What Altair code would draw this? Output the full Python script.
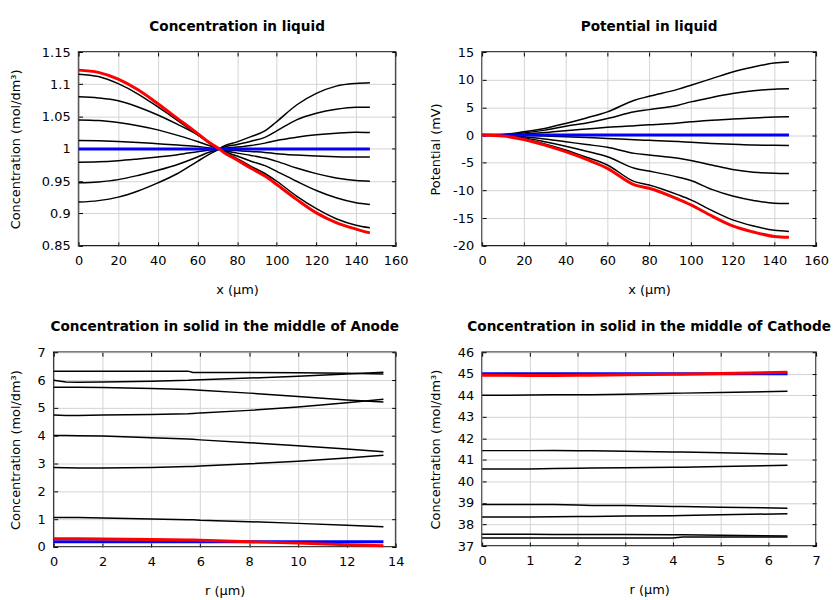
import altair as alt
import pandas as pd

FONT = "DejaVu Sans"

# ---------------- Concentration in liquid ----------------
liq_x = [0, 10, 20, 30, 40, 50, 60, 65, 71, 73, 80, 87, 94, 100, 110, 120, 130, 140, 147]
cl_black = [
    [1.1157, 1.112, 1.101, 1.085, 1.065, 1.044, 1.022, 1.011, 1.0, 0.996, 0.985, 0.973, 0.962, 0.950, 0.927, 0.9075, 0.892, 0.882, 0.878],
    [1.0808, 1.079, 1.0747, 1.065, 1.0526, 1.038, 1.0218, 1.012, 1.0, 0.997, 0.989, 0.981, 0.9742, 0.9654, 0.95, 0.9357, 0.9244, 0.9167, 0.9141],
    [1.0449, 1.044, 1.0408, 1.036, 1.0295, 1.021, 1.0115, 1.006, 1.0, 0.998, 0.9935, 0.990, 0.9859, 0.9808, 0.9705, 0.9618, 0.9551, 0.951, 0.950],
    [1.0131, 1.0125, 1.0115, 1.010, 1.008, 1.006, 1.0039, 1.002, 1.0, 0.999, 0.9975, 0.996, 0.9946, 0.9926, 0.9905, 0.989, 0.988, 0.9875, 0.9875],
    [0.9793, 0.980, 0.9818, 0.9845, 0.9875, 0.991, 0.9957, 0.998, 1.0, 1.001, 1.003, 1.0055, 1.009, 1.0131, 1.018, 1.0218, 1.0244, 1.0259, 1.0255],
    [0.9475, 0.949, 0.9525, 0.959, 0.9669, 0.976, 0.9875, 0.994, 1.0, 1.0025, 1.007, 1.012, 1.0179, 1.028, 1.045, 1.0551, 1.0613, 1.0644, 1.0644],
    [0.9177, 0.920, 0.9254, 0.935, 0.9475, 0.962, 0.9808, 0.990, 1.0, 1.004, 1.011, 1.019, 1.028, 1.0423, 1.068, 1.0859, 1.0972, 1.1013, 1.1023],
]
cl_red = [1.122, 1.1185, 1.108, 1.0915, 1.070, 1.047, 1.024, 1.012, 1.0, 0.995, 0.983, 0.970, 0.958, 0.945, 0.922, 0.901, 0.886, 0.876, 0.870]
cl_blue_x = [0, 147]
cl_blue = [1.0, 1.0]

# ---------------- Potential in liquid ----------------
pot_x = [0, 10, 20, 30, 40, 50, 60, 73, 80, 94, 100, 110, 120, 130, 140, 147]
pot_black = [
    [0, 0.1, 0.6, 1.2, 2.1, 3.1, 4.2, 6.3, 7.0, 8.3, 9.0, 10.2, 11.4, 12.3, 13.0, 13.2],
    [0, 0.07, 0.4, 0.9, 1.6, 2.2, 3.0, 4.2, 4.6, 5.4, 6.0, 6.8, 7.5, 8.0, 8.3, 8.35],
    [0, 0.03, 0.2, 0.45, 0.8, 1.1, 1.4, 1.7, 1.85, 2.2, 2.4, 2.7, 2.9, 3.1, 3.25, 3.3],
    [0, -0.01, -0.05, -0.15, -0.3, -0.45, -0.6, -0.85, -0.95, -1.15, -1.3, -1.5, -1.65, -1.8, -1.85, -1.9],
    [0, -0.05, -0.3, -0.7, -1.2, -1.7, -2.2, -3.3, -3.6, -4.2, -4.6, -5.4, -6.2, -6.7, -6.9, -6.95],
    [0, -0.1, -0.5, -1.2, -2.0, -2.9, -3.9, -6.0, -6.5, -7.6, -8.2, -9.8, -11.0, -11.8, -12.3, -12.35],
    [0, -0.15, -0.7, -1.6, -2.7, -4.0, -5.4, -8.4, -9.0, -10.8, -11.7, -13.6, -15.3, -16.4, -17.2, -17.4],
]
pot_red = [0, -0.17, -0.8, -1.8, -3.0, -4.4, -6.0, -9.0, -9.6, -11.6, -12.6, -14.6, -16.4, -17.5, -18.3, -18.45]
pot_blue_x = [0, 147]
pot_blue = [0.0, 0.0]

# ---------------- Solid, middle of anode ----------------
an_x = [0, 0.5, 1, 2, 4, 5.5, 5.7, 6, 8, 10, 12, 13.5]
an_black = [
    [6.32, 6.32, 6.32, 6.32, 6.32, 6.32, 6.27, 6.27, 6.27, 6.26, 6.24, 6.22],
    [5.99, 5.93, 5.92, 5.93, 5.96, 5.99, 6.0, 6.01, 6.07, 6.14, 6.22, 6.28],
    [5.74, 5.74, 5.74, 5.73, 5.70, 5.66, 5.65, 5.63, 5.53, 5.41, 5.28, 5.21],
    [4.74, 4.73, 4.73, 4.74, 4.76, 4.79, 4.80, 4.82, 4.91, 5.03, 5.18, 5.31],
    [4.01, 4.01, 4.0, 3.99, 3.93, 3.88, 3.87, 3.85, 3.75, 3.64, 3.52, 3.42],
    [2.86, 2.85, 2.84, 2.84, 2.86, 2.89, 2.89, 2.91, 2.99, 3.08, 3.20, 3.30],
    [1.06, 1.06, 1.06, 1.04, 1.01, 0.98, 0.98, 0.96, 0.91, 0.85, 0.78, 0.73],
]
an_red = [0.30, 0.30, 0.30, 0.29, 0.27, 0.25, 0.25, 0.24, 0.19, 0.14, 0.08, 0.05]
an_blue_x = [0, 13.5]
an_blue = [0.19, 0.19]

# ---------------- Solid, middle of cathode ----------------
ca_x = [0, 1, 1.5, 2, 2.3, 3, 4, 4.2, 5, 6.4]
ca_black = [
    [44.0, 44.01, 44.02, 44.03, 44.03, 44.05, 44.09, 44.1, 44.13, 44.19],
    [41.43, 41.43, 41.44, 41.42, 41.42, 41.40, 41.37, 41.37, 41.33, 41.26],
    [40.58, 40.58, 40.60, 40.61, 40.62, 40.63, 40.66, 40.66, 40.69, 40.75],
    [38.93, 38.93, 38.93, 38.90, 38.88, 38.88, 38.84, 38.84, 38.80, 38.76],
    [38.35, 38.35, 38.36, 38.37, 38.37, 38.39, 38.41, 38.42, 38.45, 38.50],
    [37.55, 37.55, 37.54, 37.54, 37.54, 37.53, 37.52, 37.52, 37.50, 37.47],
    [37.37, 37.37, 37.37, 37.37, 37.37, 37.37, 37.37, 37.42, 37.42, 37.42],
]
ca_red = [44.93, 44.92, 44.92, 44.93, 44.93, 44.95, 44.98, 44.98, 45.01, 45.07]
ca_blue_x = [0, 6.4]
ca_blue = [45.0, 45.0]

# tick values
liq_xticks = [0, 20, 40, 60, 80, 100, 120, 140, 160]
cl_yticks = [0.85, 0.9, 0.95, 1, 1.05, 1.1, 1.15]
pot_yticks = [-20, -15, -10, -5, 0, 5, 10, 15]
an_xticks = [0, 2, 4, 6, 8, 10, 12, 14]
an_yticks = [0, 1, 2, 3, 4, 5, 6, 7]
ca_xticks = [0, 1, 2, 3, 4, 5, 6, 7]
ca_yticks = [37, 38, 39, 40, 41, 42, 43, 44, 45, 46]


def long_df(xs, series_list):
    rows = []
    for i, ys in enumerate(series_list):
        for x, y in zip(xs, ys):
            rows.append({"x": x, "y": y, "s": "s%d" % i})
    return pd.DataFrame(rows)


def panel(bx, blist, rx, ry, ux, uy, xdom, ydom, xticks, yticks, w, h,
          title, title_off, xtitle, ytitle, ytitle_x, interp):
    xs = alt.Scale(domain=xdom, nice=False, zero=False)
    ys = alt.Scale(domain=ydom, nice=False, zero=False)
    lab = "'' + datum.value"
    ax_b = alt.Axis(orient="bottom", values=xticks, title=xtitle, grid=True, ticks=False,
                    labelExpr=lab, labelPadding=8.5, titleBaseline="alphabetic", titleY=47.5)
    ax_l = alt.Axis(orient="left", values=yticks, title=ytitle, grid=True, ticks=False,
                    labelExpr=lab, labelPadding=8.5, titleBaseline="alphabetic",
                    titleX=ytitle_x, titleY=h / 2)
    tick_kw = dict(grid=False, labels=False, ticks=True, tickSize=4, offset=-4, title=None,
                   minExtent=0, maxExtent=0)
    ax_t = alt.Axis(orient="top", values=xticks, **tick_kw)
    ax_r = alt.Axis(orient="right", values=yticks, **tick_kw)
    ax_b2 = alt.Axis(orient="bottom", values=xticks, **tick_kw)
    ax_l2 = alt.Axis(orient="left", values=yticks, **tick_kw)

    black = alt.Chart(long_df(bx, blist)).mark_line(
        color="black", strokeWidth=1.5, interpolate=interp
    ).encode(
        x=alt.X("x:Q", scale=xs, axis=ax_b),
        y=alt.Y("y:Q", scale=ys, axis=ax_l),
        detail="s:N",
    )
    blue = alt.Chart(pd.DataFrame({"x": ux, "y": uy})).mark_line(
        color="#0000ff", strokeWidth=3
    ).encode(
        x=alt.X("x:Q", scale=xs, axis=ax_t),
        y=alt.Y("y:Q", scale=ys, axis=ax_r),
    )
    red = alt.Chart(pd.DataFrame({"x": rx, "y": ry})).mark_line(
        color="#ff0000", strokeWidth=3, interpolate=interp
    ).encode(
        x=alt.X("x:Q", scale=xs, axis=ax_b2),
        y=alt.Y("y:Q", scale=ys, axis=ax_l2),
    )
    return alt.layer(black, blue, red).resolve_axis(
        x="independent", y="independent"
    ).properties(
        width=w, height=h,
        title=alt.TitleParams(title, offset=title_off, frame="group", anchor="middle",
                              baseline="alphabetic", font=FONT, fontSize=13.7,
                              fontWeight="bold", color="black"),
    )


def spacer(w):
    # invisible layout helper (no data drawn)
    return alt.Chart(pd.DataFrame({"v": [0]})).mark_point(opacity=0, size=0).encode(
        x=alt.value(0), y=alt.value(0)
    ).properties(width=w, height=1, view=alt.ViewBackground(strokeOpacity=0, fillOpacity=0))


tl = panel(liq_x, cl_black, liq_x, cl_red, cl_blue_x, cl_blue, [0, 160], [0.85, 1.15],
           liq_xticks, cl_yticks, 319, 195, "Concentration in liquid", 1.5,
           "x (µm)", "Concentration (mol/dm³)", -59, "monotone")
tr = panel(pot_x, pot_black, pot_x, pot_red, pot_blue_x, pot_blue, [0, 160], [-20, 15],
           liq_xticks, pot_yticks, 336, 195, "Potential in liquid", 1.5,
           "x (µm)", "Potential (mV)", -43, "monotone")
bl = panel(an_x, an_black, an_x, an_red, an_blue_x, an_blue, [0, 14], [0, 7],
           an_xticks, an_yticks, 344, 196, "Concentration in solid in the middle of Anode", 2,
           "r (µm)", "Concentration (mol/dm³)", -34, "linear")
br = panel(ca_x, ca_black, ca_x, ca_red, ca_blue_x, ca_blue, [0, 7], [37, 46],
           ca_xticks, ca_yticks, 336, 195, "Concentration in solid in the middle of Cathode", 2,
           "r (µm)", "Concentration (mol/dm³)", -43, "linear")

row1 = alt.hconcat(spacer(1), tl, spacer(18.6), tr, spacing=0)
row2 = alt.hconcat(spacer(1), bl, spacer(22.7), br, spacing=0)

chart = alt.vconcat(row1, row2, spacing=21).properties(
    padding={"left": 0, "top": 9.5, "right": 0, "bottom": 0},
    background="white",
).configure_view(
    stroke="black", strokeWidth=1.5
).configure_axis(
    domain=False,
    labelFont=FONT, labelFontSize=13, labelColor="black",
    titleFont=FONT, titleFontSize=13, titleFontWeight="normal", titleColor="black",
    tickColor="black", tickWidth=1,
    gridColor="#d4d4d4", gridWidth=1,
    labelFlush=False, labelOverlap=False, labelBound=False,
)

chart.save("out.html", embed_options={"renderer": "svg", "actions": False})
